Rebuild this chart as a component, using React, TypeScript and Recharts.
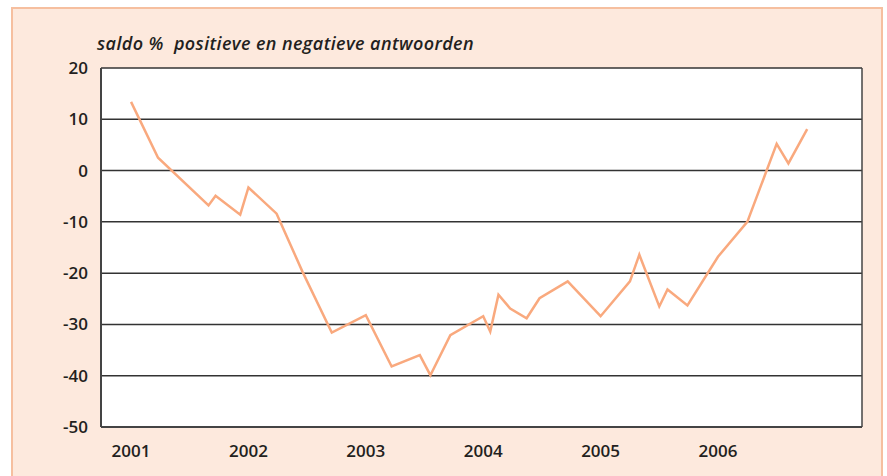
import React from 'react';
import { LineChart, Line, XAxis, YAxis, CartesianGrid, ReferenceLine } from 'recharts';

const times = [
  2001.0, 2001.23, 2001.66, 2001.72, 2001.93, 2002.0, 2002.24, 2002.46, 2002.71,
  2003.0, 2003.22, 2003.46, 2003.55, 2003.72, 2004.0, 2004.06, 2004.13, 2004.23,
  2004.37, 2004.48, 2004.72, 2005.0, 2005.25, 2005.33, 2005.5, 2005.57, 2005.74,
  2006.0, 2006.25, 2006.5, 2006.6, 2006.76,
];
const saldo = [
  13.4, 2.5, -6.8, -4.9, -8.6, -3.3, -8.4, -19.7, -31.6,
  -28.2, -38.2, -36.0, -39.9, -32.1, -28.4, -31.4, -24.2, -26.9,
  -28.8, -24.9, -21.6, -28.4, -21.6, -16.4, -26.5, -23.2, -26.3,
  -16.8, -10.0, 5.2, 1.4, 8.1,
];
const yearTicks = [2001, 2002, 2003, 2004, 2005, 2006];
const valueTicks = [-50, -40, -30, -20, -10, 0, 10, 20];
const title = 'saldo %  positieve en negatieve antwoorden';

const xDomain: [number, number] = [2000.744, 2007.227];

const data = times.map((t, i) => ({ t, v: saldo[i] }));

const tickStyle = { fill: '#231f20', fontSize: 17, fontWeight: 600, fontFamily: 'Open Sans' };

export default function App() {
  return (
    <div style={{ position: 'absolute', left: 0, top: 0, width: 887, height: 476, overflow: 'hidden', background: '#fff' }}>
      <div
        style={{
          position: 'absolute', left: 11, top: 7, width: 872, height: 480,
          background: '#fde9dd', border: '2px solid #f6bf9f', boxSizing: 'border-box',
        }}
      />
      <div
        style={{
          position: 'absolute', left: 97, top: 31, fontFamily: 'Open Sans', fontStyle: 'italic',
          fontWeight: 600, fontSize: 18, letterSpacing: 0.4, color: '#231f20', whiteSpace: 'pre', lineHeight: '24px',
        }}
      >
        {title}
      </div>
      <div style={{ position: 'absolute', left: 0, top: 0 }}>
        <LineChart width={887} height={476} data={data} margin={{ top: 68, right: 25, bottom: 0, left: 0 }}>
          <CartesianGrid vertical={false} fill="#ffffff" stroke="#333" strokeWidth={1.5} horizontalValues={valueTicks} />
          <XAxis
            type="number"
            dataKey="t"
            domain={xDomain}
            ticks={yearTicks}
            allowDataOverflow
            height={49}
            tickLine={false}
            tickSize={6}
            tickMargin={12}
            axisLine={{ stroke: '#444', strokeWidth: 2 }}
            tick={tickStyle}
          />
          <YAxis
            type="number"
            domain={[-50, 20]}
            ticks={valueTicks}
            width={101}
            tickLine={false}
            tickSize={6}
            tickMargin={7}
            axisLine={{ stroke: '#444', strokeWidth: 2 }}
            tick={tickStyle}
            interval={0}
          />
          <ReferenceLine x={xDomain[1]} stroke="#444" strokeWidth={1.5} ifOverflow="extendDomain" />
          <Line
            type="linear"
            dataKey="v"
            stroke="#f9a97e"
            strokeWidth={2.5}
            dot={false}
            isAnimationActive={false}
          />
        </LineChart>
      </div>
    </div>
  );
}
